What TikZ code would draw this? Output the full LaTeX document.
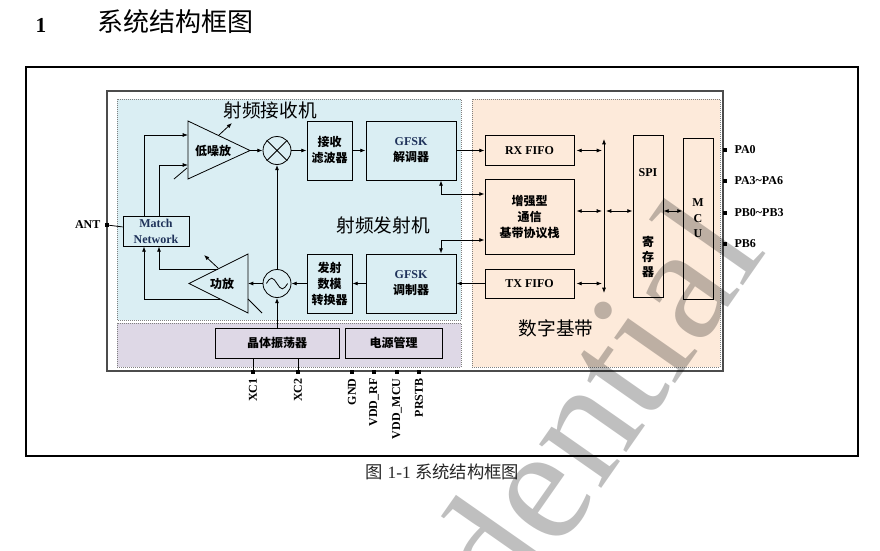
\documentclass[tikz,border=0pt]{standalone}
\usepackage{fontspec}
\setmainfont{Liberation Serif}
\newfontfamily\hei{Noto Sans CJK SC}
\usetikzlibrary{arrows.meta}
\definecolor{rfblue}{RGB}{218,238,243}
\definecolor{pmlilac}{RGB}{222,216,230}
\definecolor{bbpeach}{RGB}{253,234,218}
\definecolor{navytxt}{RGB}{31,50,90}
\newcommand{\zh}[1]{{\hei #1}}
\tikzset{
  >={Latex[length=4pt,width=3pt]},
  wire/.style={line width=0.6pt},
  blk/.style={draw, line width=0.6pt, inner sep=0pt, align=center,
    font=\bfseries\fontsize{9}{12}\selectfont},
  region/.style={draw=black!50, densely dotted, line width=0.5pt},
  pad/.style={fill, inner sep=0pt, minimum size=3pt},
  pinlbl/.style={font=\bfseries\fontsize{9}{10}\selectfont, inner sep=1pt},
  zone/.style={font=\hei\fontsize{14}{14}\selectfont},
}
\begin{document}
\begin{tikzpicture}[x={(0.75pt,0)}, y={(0,-0.75pt)}]
    \clip (0,0) rectangle (880,550);
    % frame and regions
    \draw[line width=1.2pt] (26,67) rectangle (858,456);
    \draw[line width=1.3pt, black!70] (107,91) rectangle (723,371);
    \draw[region, fill=rfblue] (117,99) rectangle (461,320);
    \draw[region, fill=pmlilac] (117,323) rectangle (461,367);
    \draw[region, fill=bbpeach] (472,99) rectangle (720,367);
    \node[anchor=base, font=\bfseries\fontsize{16}{16}\selectfont] (secno) at (41,32) {1};
    \node[anchor=base, font=\hei\fontsize{19.5}{19.5}\selectfont] (sectitle) at (175,31) {系统结构框图};
    \node[font=\fontsize{13}{13}\selectfont, text=black!85] (cap) at (442.5,472) {\zh{图}\ 1-1\ \zh{系统结构框图}};
    \node[zone] (rxlbl) at (270,110) {射频接收机};
    \node[zone] (txlbl) at (383,225) {射频发射机};
    \node[zone] (bblbl) at (556,328) {数字基带};
    % RF blocks
    \node[blk, minimum width=49.5pt, minimum height=22.5pt, text=navytxt] (match) at (156,231) {Match\\Network};
    \node[blk, minimum width=33.75pt, minimum height=44.25pt] (rxflt) at (329.5,150.5) {\zh{接收}\\\zh{滤波器}};
    \node[blk, minimum width=67.5pt, minimum height=44.25pt] (demod) at (411,150.5) {\textcolor{navytxt}{GFSK}\\\zh{解调器}};
    \node[blk, minimum width=33.75pt, minimum height=44.25pt] (dac) at (329.5,283.5) {\zh{发射}\\\zh{数模}\\\zh{转换器}};
    \node[blk, minimum width=67.5pt, minimum height=44.25pt] (mod) at (411,283.5) {\textcolor{navytxt}{GFSK}\\\zh{调制器}};
    \node[circle, draw, wire, minimum size=21pt, inner sep=0pt] (mix) at (277,150.5) {};
    \node[circle, draw, wire, minimum size=21pt, inner sep=0pt] (osc) at (277,283.5) {};
    \draw[wire] (mix.45) -- (mix.225) (mix.135) -- (mix.315);
    \draw[wire] ([xshift=-8pt]osc.center) sin ++(4pt,4pt) cos ++(4pt,-4pt) sin ++(4pt,-4pt) cos ++(4pt,4pt);
    \coordinate (lnat) at (188,121);
    \coordinate (lnab) at (188,179);
    \coordinate (lnaout) at (250,150.5);
    \draw[wire] (lnat) -- (lnaout) -- (lnab) -- cycle;
    \draw[wire, ->] (219,135) -- (232,123);
    \draw[wire] (174,179) -- (187,168);
    \node[font=\bfseries\fontsize{9}{12}\selectfont] (lna) at (213,150.5) {\zh{低噪放}};
    \coordinate (paout) at (189,283.5);
    \coordinate (pat) at (248,254);
    \coordinate (pab) at (248,313);
    \draw[wire] (paout) -- (pat) -- (pab) -- cycle;
    \draw[wire, ->] (218,268) -- (204,255);
    \draw[wire] (248,299) -- (262,313);
    \node[font=\bfseries\fontsize{9}{12}\selectfont] (pa) at (222,283.5) {\zh{功放}};
    % power
    \node[blk, minimum width=93pt, minimum height=22.5pt] (xtal) at (277,343) {\zh{晶体振荡器}};
    \node[blk, minimum width=72.75pt, minimum height=22.5pt] (pwr) at (393.5,343) {\zh{电源管理}};
    % baseband
    \node[blk, minimum width=66.75pt, minimum height=22.5pt] (rxfifo) at (529.5,150.5) {RX FIFO};
    \node[blk, minimum width=66.75pt, minimum height=56.25pt] (proto) at (529.5,216.5) {\zh{增强型}\\\zh{通信}\\\zh{基带协议栈}};
    \node[blk, minimum width=66.75pt, minimum height=21.75pt] (txfifo) at (529.5,283.5) {TX FIFO};
    \node[blk, minimum width=22.5pt, minimum height=121.5pt] (spi) at (648,216) {};
    \node[font=\bfseries\fontsize{9}{11.5}\selectfont] (spitxt) at (648,173) {SPI};
    \node[font=\bfseries\fontsize{9}{11.5}\selectfont, align=center] (regtxt) at (648,257) {\zh{寄}\\\zh{存}\\\zh{器}};
    \node[blk, minimum width=22.5pt, minimum height=120.75pt, font=\bfseries\fontsize{9}{11.6}\selectfont] (mcu) at (698,218.5) {M\\C\\U};
    % RF paths
    \draw[wire, ->] (lnaout) -- (mix);
    \draw[wire, ->] (mix) -- (rxflt);
    \draw[wire, ->] (rxflt) -- (demod);
    \draw[wire, ->] (demod) -- (rxfifo);
    \draw[wire, ->] (txfifo) -- (mod);
    \draw[wire, ->] (mod) -- (dac);
    \draw[wire, ->] (dac) -- (osc);
    \draw[wire, ->] (osc) -- (pa -| pat);
    \draw[wire, ->] (osc) -- (mix);
    \draw[wire, ->] (xtal.north -| osc) -- (osc);
    \coordinate (lnain1) at (188,135);
    \coordinate (lnain2) at (188,165);
    \draw[wire, ->] ([xshift=-9pt]match.north) |- (lnain1);
    \draw[wire, ->] ([xshift=2.25pt]match.north) |- (lnain2);
    \coordinate (paup) at (218,269);
    \coordinate (padn) at (220,299);
    \draw[wire, ->] (paup) -| ([xshift=2.25pt]match.south);
    \draw[wire, ->] (padn) -| ([xshift=-9pt]match.south);
    \coordinate (dm) at (441,194);
    \coordinate (mp) at (441,240);
    \draw[wire, <->] (demod.south -| dm) |- (proto.west |- dm);
    \draw[wire, <->] (mod.north -| mp) |- (proto.west |- mp);
    % bus
    \coordinate (bustop) at (604,139);
    \coordinate (busbot) at (604,293);
    \coordinate (busmid) at (604,211);
    \draw[wire, <->] (busbot) -- (bustop);
    \draw[wire, <->, shorten <=1.5pt, shorten >=1.5pt] (rxfifo) -- (rxfifo -| bustop);
    \draw[wire, <->, shorten <=1.5pt, shorten >=1.5pt] (txfifo) -- (txfifo -| bustop);
    \draw[wire, <->, shorten <=1.5pt, shorten >=1.5pt] (proto.east |- busmid) -- (busmid);
    \draw[wire, <->, shorten <=1.5pt] (busmid) -- (spi.west |- busmid);
    \draw[wire, <->] (spi.east |- busmid) -- (mcu.west |- busmid);
    % pins
    \node[pad] (pant) at (107,225) {};
    \node[pinlbl, anchor=east] (lant) at (102,225) {ANT};
    \draw[wire] (pant) -- (match);
    \foreach \y/\lbl [count=\i] in {150/PA0, 181/PA3\textasciitilde PA6, 213/PB0\textasciitilde PB3, 244/PB6} {
      \node[pad] (pr\i) at (725,\y) {};
      \node[pinlbl, anchor=west] (lr\i) at (733,\y) {\lbl};
    }
    \foreach \x/\lbl [count=\i] in {253/XC1, 298/XC2, 352/GND, 374/VDD\_RF, 397/VDD\_MCU, 419/PRSTB} {
      \node[pad] (pb\i) at (\x,372) {};
      \node[pinlbl, rotate=90, anchor=east] (lb\i) at (\x,377) {\lbl};
    }
    \draw[wire] (xtal.south -| pb1) -- (pb1);
    \draw[wire] (xtal.south -| pb2) -- (pb2);
    % watermark
    \node[rotate=55, anchor=base east, inner sep=0pt, font=\fontsize{124}{124}\selectfont, text=black, text opacity=0.25] (wmark) at (768,251) {Confidential};
\end{tikzpicture}
\end{document}
